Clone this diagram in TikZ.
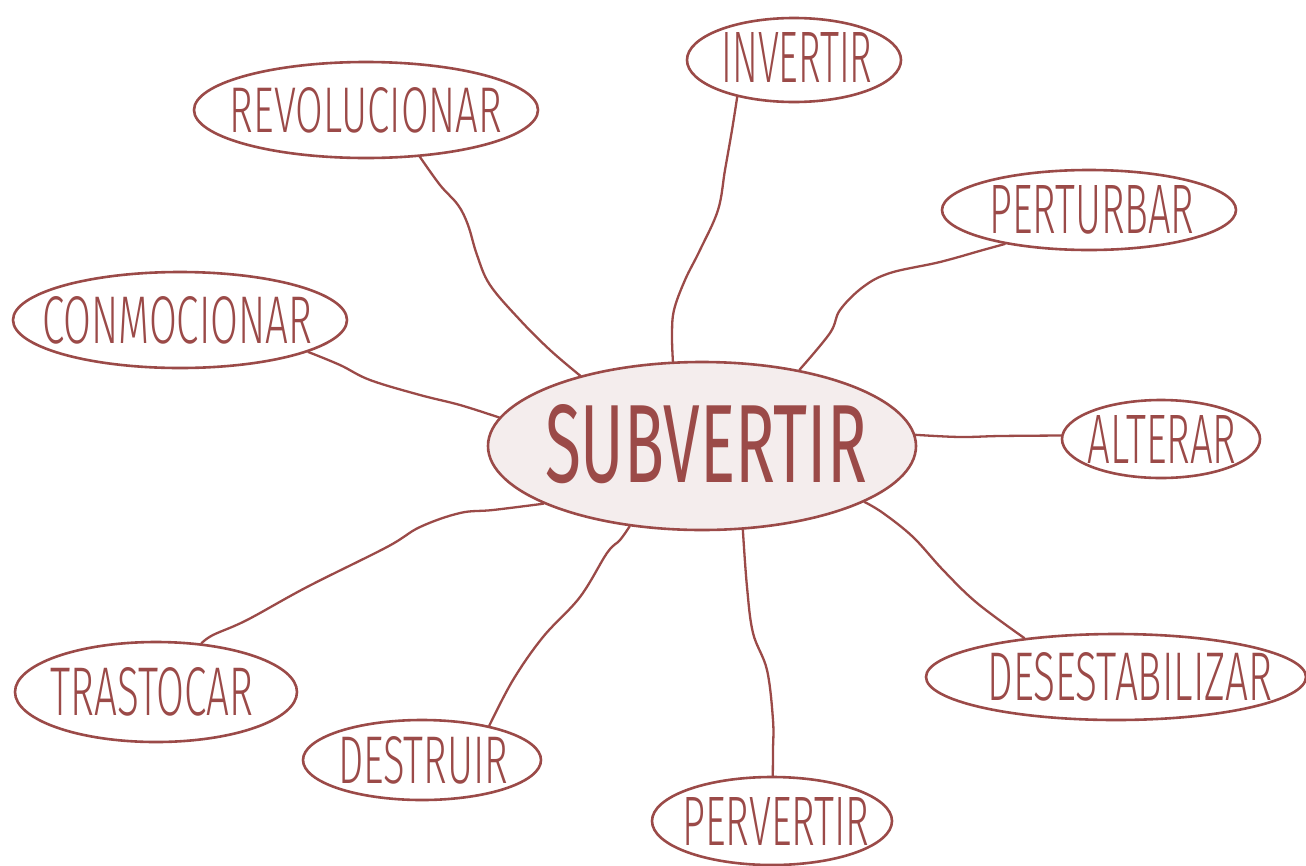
\documentclass[tikz,border=0pt]{standalone}
\usepackage{fontspec}
\IfFontExistsTF{Fira Sans Light}{\setmainfont{Fira Sans Light}}{\setmainfont{Liberation Sans}}
\newfontfamily\centrefont{Fira Sans}
\usepackage{graphicx}
\usetikzlibrary{shapes.geometric}
\definecolor{ink}{HTML}{9B4A48}
\definecolor{pinkfill}{HTML}{F4EDED}
% width, cap height, x shift, y shift (image px, down positive), text
\newcommand{\capstext}[5]{\makebox[0pt]{\hspace*{#3pt}\hspace*{#3pt}\raisebox{-#4pt}{\resizebox{#1pt}{#2pt}{\fontsize{63}{70}\selectfont #5}}}}
\begin{document}
\begin{tikzpicture}[x=1pt,y=-1pt,
  bubble/.style={ellipse, draw=ink, line width=2.6pt, fill=white, inner sep=0pt, text=ink},
  link/.style={draw=ink, line width=2.3pt, line cap=round, line join=round}]
\useasboundingbox[fill=white] (0,0) rectangle (1306,865);

\node[bubble, fill=pinkfill, minimum width=428pt, minimum height=168pt] (sub) at (702,446) {\capstext{322}{78}{4}{-5}{\centrefont SUBVERTIR}};
\node[bubble, minimum width=344pt, minimum height=96pt] (rev) at (366,110) {\capstext{272}{45}{0}{0}{REVOLUCIONAR}};
\node[bubble, minimum width=214pt, minimum height=84pt] (inv) at (794,60) {\capstext{151}{50}{3}{-5}{INVERTIR}};
\node[bubble, minimum width=294pt, minimum height=80pt] (per) at (1089,210) {\capstext{205}{48}{3}{0}{PERTURBAR}};
\node[bubble, minimum width=334pt, minimum height=96pt] (con) at (180,320) {\capstext{270}{47}{-3}{0}{CONMOCIONAR}};
\node[bubble, minimum width=198pt, minimum height=78pt] (alt) at (1161,439) {\capstext{149}{48}{1}{0}{ALTERAR}};
\node[bubble, minimum width=380pt, minimum height=86pt] (des) at (1116,677) {\capstext{285}{48}{14}{0}{DESESTABILIZAR}};
\node[bubble, minimum width=282pt, minimum height=100pt] (tras) at (156,692) {\capstext{203}{48}{-4}{2}{TRASTOCAR}};
\node[bubble, minimum width=238pt, minimum height=80pt] (dest) at (422,760) {\capstext{170}{47}{1}{0}{DESTRUIR}};
\node[bubble, minimum width=240pt, minimum height=88pt] (perv) at (772,821) {\capstext{187}{48}{4}{0}{PERVERTIR}};

\draw[link] plot[smooth, tension=0.6] coordinates {(rev.-41) (440,185) (458,205) (468,225) (477,255) (490,285) (520,320) (550,350) (sub.150)};
\draw[link] plot[smooth, tension=0.6] coordinates {(inv.-147) (732,130) (725,170) (718,210) (700,250) (685,280) (674,310) (672,335) (sub.109)};
\draw[link] plot[smooth, tension=0.6] coordinates {(per.202) (983,250) (940,262) (890,273) (863,287) (840,310) (830,333) (sub.38)};
\draw[link] plot[smooth, tension=0.6] coordinates {(con.-14) (340,365) (370,380) (420,395) (460,405) (sub.172)};
\draw[link] plot[smooth, tension=0.6] coordinates {(sub.3) (960,437) (1000,436) (alt.178)};
\draw[link] plot[smooth, tension=0.6] coordinates {(sub.-19) (883,513) (913,537) (943,570) (977,603) (des.157)};
\draw[link] plot[smooth, tension=0.6] coordinates {(sub.-64) (747,587) (753,633) (767,670) (773,720) (773,750) (perv.89)};
\draw[link] plot[smooth, tension=0.6] coordinates {(sub.-132) (620,540) (607,553) (580,597) (543,637) (513,680) (dest.27)};
\draw[link] plot[smooth, tension=0.6] coordinates {(sub.-160) (493,510) (460,513) (420,527) (387,547) (307,587) (247,620) (213,635) (tras.47)};
\end{tikzpicture}
\end{document}
